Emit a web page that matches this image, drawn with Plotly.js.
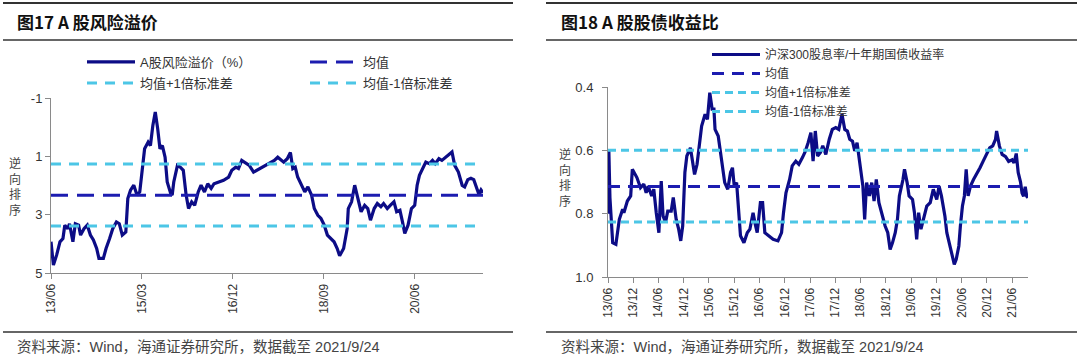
<!DOCTYPE html>
<html><head><meta charset="utf-8">
<script src="https://cdn.plot.ly/plotly-3.0.1.min.js"></script>
<style>html,body{margin:0;padding:0;background:#fff}#chart{width:1080px;height:359px}</style>
</head><body><div id="chart"></div>
<script>
// ---------- Figure 17: A-share risk premium ----------
const leftDates = ['2013-06-01','2013-06-18','2013-07-11','2013-08-03','2013-08-24','2013-09-06','2013-09-27','2013-10-09','2013-11-02','2013-11-19','2013-12-12','2013-12-26','2014-01-19','2014-02-11','2014-03-05','2014-03-26','2014-04-18','2014-05-04','2014-06-04','2014-06-23','2014-07-18','2014-08-09','2014-09-04','2014-09-24','2014-10-15','2014-11-09','2014-11-23','2014-12-12','2015-01-04','2015-01-27','2015-02-15','2015-03-01','2015-03-21','2015-04-15','2015-05-01','2015-05-18','2015-06-04','2015-06-21','2015-07-07','2015-07-24','2015-08-12','2015-08-27','2015-09-21','2015-10-01','2015-10-12','2015-11-07','2015-11-27','2015-12-18','2016-01-07','2016-01-24','2016-02-15','2016-03-07','2016-04-01','2016-04-21','2016-05-15','2016-06-07','2016-07-01','2016-07-21','2016-08-23','2016-09-26','2016-11-01','2016-11-23','2016-12-21','2017-01-09','2017-02-01','2017-02-20','2017-03-26','2017-04-25','2017-06-09','2017-07-12','2017-08-15','2017-09-18','2017-10-12','2017-11-04','2017-11-23','2017-12-18','2018-01-09','2018-01-26','2018-02-12','2018-03-01','2018-03-26','2018-04-20','2018-05-12','2018-06-07','2018-06-26','2018-07-21','2018-08-12','2018-09-04','2018-09-26','2018-10-18','2018-11-12','2018-12-04','2018-12-21','2019-01-18','2019-02-12','2019-02-20','2019-03-15','2019-04-06','2019-05-01','2019-05-21','2019-06-15','2019-07-07','2019-07-26','2019-08-21','2019-09-12','2019-10-07','2019-10-26','2019-11-21','2019-12-12','2020-01-07','2020-01-26','2020-02-18','2020-03-07','2020-03-23','2020-04-15','2020-05-09','2020-06-01','2020-06-18','2020-07-04','2020-07-26','2020-08-18','2020-09-12','2020-10-04','2020-10-23','2020-11-18','2020-12-09','2021-01-04','2021-01-23','2021-02-18','2021-03-09','2021-04-04','2021-05-01','2021-05-18','2021-06-09','2021-07-01','2021-07-21','2021-08-09','2021-08-26','2021-09-10','2021-09-24'];
const leftValues = [3.93,4.73,4.38,3.93,3.82,3.36,3.48,3.31,3.93,3.31,3.36,3.70,3.48,3.36,3.70,3.87,4.16,4.50,4.50,4.16,3.82,3.48,3.25,3.31,3.70,3.59,2.45,2.16,1.99,2.33,2.22,1.65,0.74,0.51,0.63,-0.06,-0.52,0.05,0.74,0.63,1.03,1.88,2.28,2.33,1.88,1.31,1.37,1.48,2.33,2.79,2.56,2.68,2.22,1.99,2.22,1.94,2.10,1.94,1.88,1.82,1.71,1.48,1.37,1.42,1.14,1.20,1.31,1.54,1.42,1.31,1.25,1.14,1.03,1.14,1.20,1.08,0.87,1.42,1.37,1.71,1.94,2.22,2.05,2.33,2.79,3.02,3.13,3.36,3.70,3.82,3.93,4.16,4.41,4.16,3.48,2.79,2.56,1.99,2.45,2.90,2.68,2.79,3.19,2.79,2.62,2.73,2.62,2.79,2.68,2.56,2.90,2.85,3.25,3.64,3.36,2.79,2.68,1.99,1.65,1.42,1.20,1.25,1.14,1.25,1.08,1.14,1.03,0.97,0.85,1.31,1.54,2.00,2.05,1.80,1.75,1.80,2.10,2.30,2.15,2.25];
const leftMean = 2.33;
const leftPlus1 = 3.39;
const leftMinus1 = 1.26;
const leftSpan = ['2013-06-01','2021-09-24'];
const leftTickVals = ['2013-06-01','2015-03-01','2016-12-01','2018-09-01','2020-06-01'];
const leftTickText = ['13/06','15/03','16/12','18/09','20/06'];
const leftYTicks = [-1,1,3,5];

// ---------- Figure 18: equity/bond yield ratio ----------
const rightDates = ['2013-06-01','2013-06-07','2013-06-15','2013-07-05','2013-07-28','2013-08-09','2013-08-22','2013-09-15','2013-09-24','2013-10-19','2013-11-12','2013-11-24','2013-12-09','2013-12-27','2014-01-22','2014-02-15','2014-03-04','2014-03-18','2014-04-13','2014-04-28','2014-05-16','2014-06-04','2014-06-21','2014-07-04','2014-07-22','2014-08-07','2014-09-01','2014-09-16','2014-10-07','2014-10-25','2014-11-09','2014-11-23','2014-12-09','2014-12-23','2015-01-18','2015-02-06','2015-02-17','2015-03-07','2015-03-21','2015-04-09','2015-05-04','2015-05-21','2015-06-07','2015-06-24','2015-07-07','2015-07-15','2015-08-07','2015-08-24','2015-09-09','2015-09-23','2015-10-15','2015-11-04','2015-11-18','2015-12-01','2015-12-18','2016-01-15','2016-02-09','2016-03-04','2016-03-23','2016-04-15','2016-05-01','2016-05-15','2016-06-07','2016-06-23','2016-07-09','2016-08-04','2016-09-07','2016-10-12','2016-11-07','2016-11-21','2016-12-09','2017-01-04','2017-01-23','2017-02-18','2017-03-12','2017-04-07','2017-04-26','2017-05-18','2017-06-07','2017-06-23','2017-07-09','2017-07-26','2017-08-15','2017-09-01','2017-09-23','2017-10-18','2017-11-09','2017-12-04','2017-12-26','2018-01-18','2018-02-07','2018-02-26','2018-03-15','2018-04-04','2018-04-20','2018-05-07','2018-05-21','2018-06-07','2018-06-18','2018-07-01','2018-07-15','2018-08-04','2018-08-21','2018-09-07','2018-09-23','2018-10-12','2018-11-04','2018-11-26','2018-12-15','2019-01-01','2019-01-18','2019-02-07','2019-02-23','2019-03-09','2019-04-04','2019-04-15','2019-05-04','2019-05-18','2019-06-12','2019-06-26','2019-07-12','2019-07-26','2019-08-12','2019-09-04','2019-09-23','2019-10-18','2019-11-09','2019-12-04','2019-12-21','2020-01-07','2020-02-01','2020-02-15','2020-03-04','2020-03-23','2020-04-09','2020-04-23','2020-05-12','2020-05-23','2020-06-07','2020-06-21','2020-07-04','2020-07-18','2020-08-04','2020-08-26','2020-09-18','2020-10-12','2020-11-04','2020-11-26','2020-12-21','2021-01-12','2021-02-01','2021-02-09','2021-03-01','2021-03-21','2021-04-15','2021-05-07','2021-06-01','2021-06-15','2021-07-01','2021-07-15','2021-08-01','2021-08-12','2021-08-23','2021-09-04','2021-09-15','2021-09-24'];
const rightValues = [0.80,0.60,0.75,0.892,0.897,0.86,0.818,0.786,0.797,0.76,0.744,0.66,0.67,0.686,0.718,0.707,0.734,0.713,0.744,0.723,0.797,0.86,0.697,0.807,0.828,0.792,0.792,0.749,0.818,0.849,0.886,0.839,0.67,0.618,0.592,0.639,0.676,0.644,0.597,0.523,0.486,0.502,0.418,0.47,0.47,0.534,0.555,0.607,0.66,0.702,0.723,0.67,0.655,0.713,0.702,0.87,0.892,0.86,0.849,0.797,0.834,0.86,0.765,0.765,0.86,0.87,0.881,0.886,0.86,0.797,0.734,0.692,0.649,0.634,0.644,0.623,0.605,0.576,0.544,0.634,0.539,0.618,0.607,0.586,0.613,0.565,0.534,0.528,0.534,0.486,0.534,0.539,0.565,0.571,0.602,0.576,0.628,0.67,0.713,0.818,0.702,0.744,0.702,0.76,0.692,0.765,0.807,0.839,0.86,0.913,0.892,0.86,0.818,0.744,0.692,0.66,0.702,0.744,0.755,0.797,0.881,0.797,0.849,0.807,0.776,0.765,0.723,0.755,0.713,0.744,0.807,0.86,0.892,0.934,0.96,0.944,0.902,0.839,0.776,0.744,0.66,0.744,0.713,0.692,0.676,0.655,0.634,0.613,0.592,0.586,0.565,0.539,0.586,0.613,0.62,0.635,0.63,0.64,0.61,0.67,0.70,0.735,0.745,0.715,0.745,0.75];
const rightMean = 0.714;
const rightPlus1 = 0.826;
const rightMinus1 = 0.600;
const rightSpan = ['2013-06-01','2021-09-24'];
const rightTickVals = ['2013-06-01','2013-12-01','2014-06-01','2014-12-01','2015-06-01','2015-12-01','2016-06-01','2016-12-01','2017-06-01','2017-12-01','2018-06-01','2018-12-01','2019-06-01','2019-12-01','2020-06-01','2020-12-01','2021-06-01'];
const rightTickText = ['13/06','13/12','14/06','14/12','15/06','15/12','16/06','16/12','17/06','17/12','18/06','18/12','19/06','19/12','20/06','20/12','21/06'];
const rightYTicks = [0.4,0.6,0.8,1.0];

const W = 1080, H = 359;
const px = v => v / W;
const py = v => 1 - v / H;

const NAVY = '#0c0c86', MEANC = '#1c1cb0', CYAN = '#4cc6e6';
const FONT = 'Liberation Sans, Arial, Noto Sans CJK SC, sans-serif';
const CJK = 'Noto Sans CJK SC, Liberation Sans, sans-serif';
const MIX = 'Liberation Sans, Noto Sans CJK SC, sans-serif';

const traces = [
  {x: leftDates, y: leftValues, xaxis: 'x', yaxis: 'y', type: 'scatter', mode: 'lines', name: 'A股风险溢价（%）',
   line: {color: NAVY, width: 3.2}, legend: 'legend'},
  {x: leftSpan, y: [leftMean, leftMean], xaxis: 'x', yaxis: 'y', mode: 'lines', name: '均值',
   line: {color: MEANC, width: 3, dash: '17px,9px'}, legend: 'legend'},
  {x: leftSpan, y: [leftPlus1, leftPlus1], xaxis: 'x', yaxis: 'y', mode: 'lines', name: '均值+1倍标准差',
   line: {color: CYAN, width: 3, dash: '10px,8px'}, legend: 'legend2'},
  {x: leftSpan, y: [leftMinus1, leftMinus1], xaxis: 'x', yaxis: 'y', mode: 'lines', name: '均值-1倍标准差',
   line: {color: CYAN, width: 3, dash: '10px,8px'}, legend: 'legend2'},

  {x: rightDates, y: rightValues, xaxis: 'x2', yaxis: 'y2', type: 'scatter', mode: 'lines', name: '沪深300股息率/十年期国债收益率',
   line: {color: NAVY, width: 3.2}, legend: 'legend3'},
  {x: rightSpan, y: [rightMean, rightMean], xaxis: 'x2', yaxis: 'y2', mode: 'lines', name: '均值',
   line: {color: MEANC, width: 3, dash: '12px,8px'}, legend: 'legend3'},
  {x: rightSpan, y: [rightPlus1, rightPlus1], xaxis: 'x2', yaxis: 'y2', mode: 'lines', name: '均值+1倍标准差',
   line: {color: CYAN, width: 3, dash: '8px,5px'}, legend: 'legend3'},
  {x: rightSpan, y: [rightMinus1, rightMinus1], xaxis: 'x2', yaxis: 'y2', mode: 'lines', name: '均值-1倍标准差',
   line: {color: CYAN, width: 3, dash: '8px,5px'}, legend: 'legend3'}
];

const axisCommon = {showgrid: false, zeroline: false, showline: true, linecolor: '#8a8a8a', linewidth: 1,
  ticks: 'outside', ticklen: 5, tickcolor: '#8a8a8a', tickfont: {family: FONT, size: 13, color: '#333'}};

const legendCommon = {bgcolor: 'rgba(0,0,0,0)', font: {family: MIX, size: 13, color: '#333'},
  itemwidth: 48, tracegroupgap: 0, itemclick: false};

const layout = {
  width: W, height: H,
  margin: {l: 0, r: 0, t: 0, b: 0},
  paper_bgcolor: '#fff', plot_bgcolor: '#fff',
  showlegend: true,
  xaxis: Object.assign({}, axisCommon, {domain: [px(51), px(483)], anchor: 'y', type: 'date',
    range: leftSpan, tickvals: leftTickVals, ticktext: leftTickText, tickangle: -90, tickfont: {family: FONT, size: 12, color: '#333'}}),
  yaxis: Object.assign({}, axisCommon, {domain: [py(273), py(98)], anchor: 'x', range: [5, -1],
    tickvals: leftYTicks, ticktext: leftYTicks.map(String)}),
  xaxis2: Object.assign({}, axisCommon, {domain: [px(608), px(1028)], anchor: 'y2', type: 'date',
    range: rightSpan, tickvals: rightTickVals, ticktext: rightTickText, tickangle: -90, tickfont: {family: FONT, size: 12, color: '#333'}}),
  yaxis2: Object.assign({}, axisCommon, {domain: [py(277), py(87)], anchor: 'x2', range: [1.0, 0.4],
    tickvals: rightYTicks, ticktext: rightYTicks.map(v => v.toFixed(1)), ticklabelstandoff: 6}),
  legend: Object.assign({}, legendCommon, {x: px(82), y: py(62), xanchor: 'left', yanchor: 'middle',
    orientation: 'h', entrywidth: 160, entrywidthmode: 'pixels'}),
  legend2: Object.assign({}, legendCommon, {x: px(82), y: py(83), xanchor: 'left', yanchor: 'middle',
    orientation: 'h', entrywidth: 160, entrywidthmode: 'pixels'}),
  legend3: Object.assign({}, legendCommon, {x: px(707), y: py(40), xanchor: 'left', yanchor: 'top',
    orientation: 'v', font: {family: MIX, size: 12, color: '#333'}}),
  shapes: [
    {type: 'line', xref: 'paper', yref: 'paper', x0: px(3), x1: px(513), y0: py(3), y1: py(3), line: {color: '#333', width: 2}},
    {type: 'line', xref: 'paper', yref: 'paper', x0: px(3), x1: px(513), y0: py(40), y1: py(40), line: {color: '#333', width: 1.5}},
    {type: 'line', xref: 'paper', yref: 'paper', x0: px(3), x1: px(513), y0: py(332), y1: py(332), line: {color: '#333', width: 1.5}},
    {type: 'line', xref: 'paper', yref: 'paper', x0: px(546), x1: px(1077), y0: py(3), y1: py(3), line: {color: '#333', width: 2}},
    {type: 'line', xref: 'paper', yref: 'paper', x0: px(546), x1: px(1077), y0: py(40), y1: py(40), line: {color: '#333', width: 1.5}},
    {type: 'line', xref: 'paper', yref: 'paper', x0: px(546), x1: px(1077), y0: py(332), y1: py(332), line: {color: '#333', width: 1.5}}
  ],
  annotations: [
    {text: '<b>图17 A 股风险溢价</b>', xref: 'paper', yref: 'paper', x: px(15), y: py(22), xanchor: 'left', yanchor: 'middle',
     showarrow: false, font: {family: CJK, size: 17, color: '#111'}},
    {text: '<b>图18 A 股股债收益比</b>', xref: 'paper', yref: 'paper', x: px(559), y: py(22), xanchor: 'left', yanchor: 'middle',
     showarrow: false, font: {family: CJK, size: 17, color: '#111'}},
    {text: '资料来源：Wind，海通证券研究所，数据截至 2021/9/24', xref: 'paper', yref: 'paper', x: px(15), y: py(347), xanchor: 'left', yanchor: 'middle',
     showarrow: false, font: {family: MIX, size: 14.5, color: '#444'}},
    {text: '资料来源：Wind，海通证券研究所，数据截至 2021/9/24', xref: 'paper', yref: 'paper', x: px(559), y: py(347), xanchor: 'left', yanchor: 'middle',
     showarrow: false, font: {family: MIX, size: 14.5, color: '#444'}},
    {text: '逆<br>向<br>排<br>序', xref: 'paper', yref: 'paper', x: px(15), y: py(186), xanchor: 'center', yanchor: 'middle',
     showarrow: false, font: {family: CJK, size: 12, color: '#444'}},
    {text: '逆<br>向<br>排<br>序', xref: 'paper', yref: 'paper', x: px(565), y: py(177), xanchor: 'center', yanchor: 'middle',
     showarrow: false, font: {family: CJK, size: 12, color: '#444'}}
  ]
};

Plotly.newPlot('chart', traces, layout, {displayModeBar: false, staticPlot: true});
</script>
</body></html>
